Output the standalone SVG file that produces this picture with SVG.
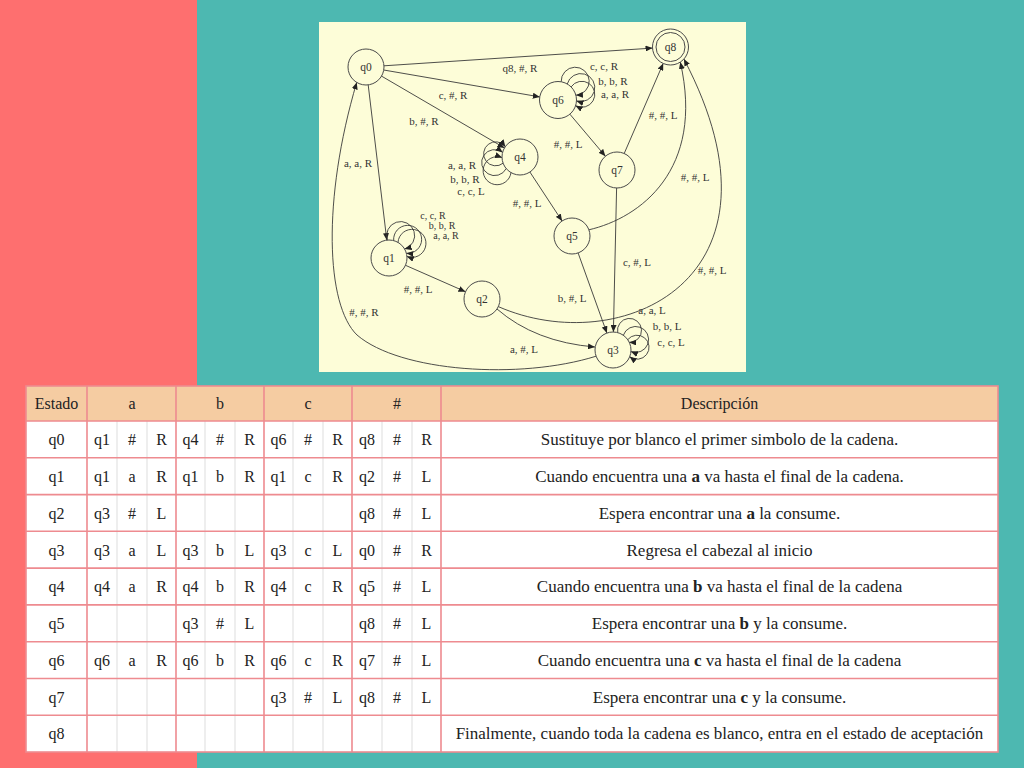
<svg xmlns="http://www.w3.org/2000/svg" width="1024" height="768" viewBox="0 0 1024 768">
<style>
.bgL{fill:#FE6F6F}
.bgR{fill:#4DB8B1}
.panel{fill:#FDFDD8}
.node{fill:none;stroke:#4a4a4a;stroke-width:1}
.nl{font-family:"Liberation Serif",serif;font-size:11.5px;fill:#333;text-anchor:middle}
.el{font-family:"Liberation Serif",serif;font-size:11px;fill:#333;text-anchor:middle}
.es{font-family:"Liberation Serif",serif;font-size:10px;fill:#333;text-anchor:middle}
.edge{fill:none;stroke:#3a3a3a;stroke-width:0.9;marker-end:url(#arr)}
.tc{font-family:"Liberation Serif",serif;font-size:16px;fill:#222;text-anchor:middle}
.td{font-family:"Liberation Serif",serif;font-size:17px;fill:#222;text-anchor:middle}
.pk{stroke:#EE8B90;stroke-width:1.6;fill:none}
.gr{stroke:#DDDDDD;stroke-width:1;fill:none}
</style>
<defs>
<marker id="arr" markerUnits="userSpaceOnUse" markerWidth="7" markerHeight="6" refX="7" refY="3" orient="auto">
<path d="M0,0 L7,3 L0,6 z" fill="#222"/>
</marker>
</defs>
<rect class="bgR" x="0" y="0" width="1024" height="768"/>
<rect class="bgL" x="0" y="0" width="197" height="768"/>
<rect class="panel" x="319" y="22" width="427" height="350"/>

<g id="connectors">
<path class="edge" d="M384,65.8 L652.5,48.1"/>
<path class="edge" d="M383.7,70 L539.8,96.9"/>
<path class="edge" d="M381.5,76.1 L504.5,147.9"/>
<path class="edge" d="M368.2,84.9 L386.8,240.1"/>
<path class="edge" d="M405.5,265.3 L465.5,291.7"/>
<path class="edge" d="M497,309 Q535,342 595,347"/>
<path class="edge" d="M498.3,306.6 C620,360 800,280 683.9,59"/>
<path class="edge" d="M596.1,356.2 C520,380 400,372 357,335 C326,305 322,200 356.7,82.4"/>
<path class="edge" d="M529.9,172 L562.1,221"/>
<path class="edge" d="M569.9,114.2 L605.4,156.2"/>
<path class="edge" d="M624.2,153.5 L663.2,63.4"/>
<path class="edge" d="M616.6,188 L613.4,332"/>
<path class="edge" d="M578.1,252.9 L606.9,333.1"/>
<path class="edge" d="M588.9,229.8 C640,218 705,170 680.3,62.1"/>
<path class="edge" d="M387.4,240.1 A14,14 0 1 1 404.6,249"/>
<path class="edge" d="M393.7,240.6 A14,14 0 1 1 406.4,253.3"/>
<path class="edge" d="M398,242.4 A14,14 0 1 1 406.9,256.4"/>
<path class="edge" d="M561.2,81.8 A14,14 0 1 1 575.9,95.2"/>
<path class="edge" d="M567.25,84 A14,14 0 1 1 576.5,100.9"/>
<path class="edge" d="M571.1,86.9 A13,13 0 1 1 575.6,105.7"/>
<path class="edge" d="M503.1,163.2 A12,12 0 1 1 505.3,146.7"/>
<path class="edge" d="M506.2,168.6 A13,13 0 1 1 502.6,152.3"/>
<path class="edge" d="M511,172.6 A14,14 0 1 1 502,157.6"/>
<path class="edge" d="M617.7,332.6 A12,12 0 1 1 629.3,342.4"/>
<path class="edge" d="M623.3,335.3 A13,13 0 1 1 630.9,351.6"/>
<path class="edge" d="M627.7,339.7 A12,12 0 1 1 629.7,356.7"/>
<text class="el" x="520" y="72">q8, #, R</text>
<text class="el" x="453" y="99">c, #, R</text>
<text class="el" x="424" y="125">b, #, R</text>
<text class="el" x="358" y="167">a, a, R</text>
<text class="el" x="462" y="169">a, a, R</text>
<text class="el" x="465" y="183">b, b, R</text>
<text class="el" x="471" y="195">c, c, L</text>
<text class="el" x="604" y="70">c, c, R</text>
<text class="el" x="613" y="85">b, b, R</text>
<text class="el" x="615" y="98">a, a, R</text>
<text class="el" x="568" y="148">#, #, L</text>
<text class="el" x="663" y="119">#, #, L</text>
<text class="el" x="695" y="181">#, #, L</text>
<text class="es" x="433" y="219">c, c, R</text>
<text class="es" x="442" y="229">b, b, R</text>
<text class="es" x="446" y="239">a, a, R</text>
<text class="el" x="418" y="293">#, #, L</text>
<text class="el" x="364" y="316">#, #, R</text>
<text class="el" x="524" y="353">a, #, L</text>
<text class="el" x="527" y="207">#, #, L</text>
<text class="el" x="572" y="302">b, #, L</text>
<text class="el" x="637" y="266">c, #, L</text>
<text class="el" x="712" y="274">#, #, L</text>
<text class="el" x="652" y="314">a, a, L</text>
<text class="el" x="667" y="330">b, b, L</text>
<text class="el" x="671" y="346">c, c, L</text>
</g>

<g id="q0"><circle class="node" cx="366" cy="67" r="18"/><text class="nl" x="366" y="71">q0</text></g>
<g id="q1"><circle class="node" cx="389" cy="258" r="18"/><text class="nl" x="389" y="262">q1</text></g>
<g id="q2"><circle class="node" cx="482" cy="299" r="18"/><text class="nl" x="482" y="303">q2</text></g>
<g id="q3"><circle class="node" cx="613" cy="350" r="18"/><text class="nl" x="613" y="354">q3</text></g>
<g id="q4"><circle class="node" cx="520" cy="157" r="18"/><text class="nl" x="520" y="161">q4</text></g>
<g id="q5"><circle class="node" cx="572" cy="236" r="18"/><text class="nl" x="572" y="240">q5</text></g>
<g id="q6"><circle class="node" cx="558" cy="100" r="18.5"/><text class="nl" x="558" y="104">q6</text></g>
<g id="q7"><circle class="node" cx="617" cy="170" r="18"/><text class="nl" x="617" y="174">q7</text></g>
<g id="q8"><circle class="node" cx="670.5" cy="47" r="18"/><circle class="node" cx="670.5" cy="47" r="14.5"/><text class="nl" x="670.5" y="51">q8</text></g>

<g id="table">
<rect x="26" y="386" width="972" height="366" fill="#FFFFFF"/>
<rect x="26" y="386" width="972" height="35" fill="#F5CCA2"/>
<g class="gr">
<path d="M117,421V752M147,421V752M205,421V752M235,421V752M293,421V752M323,421V752M382,421V752M412,421V752"/>
</g>
<g class="pk">
<rect x="26" y="386" width="972" height="366"/>
<path d="M87,386V752M176,386V752M264,386V752M352,386V752M441,386V752"/>
<path d="M26,421H998M26,457.8H998M26,494.6H998M26,531.3H998M26,568.1H998M26,604.9H998M26,641.7H998M26,678.5H998M26,715.2H998"/>
</g>
<g class="tc">
<text x="56.5" y="409">Estado</text><text x="132" y="409">a</text><text x="220" y="409">b</text><text x="308" y="409">c</text><text x="397" y="409">#</text><text x="719.5" y="409">Descripción</text>
<text x="56.5" y="445">q0</text><text x="102" y="445">q1</text><text x="132" y="445">#</text><text x="161.5" y="445">R</text><text x="190.5" y="445">q4</text><text x="220" y="445">#</text><text x="249.5" y="445">R</text><text x="278.5" y="445">q6</text><text x="308" y="445">#</text><text x="337.5" y="445">R</text><text x="367" y="445">q8</text><text x="397" y="445">#</text><text x="426.5" y="445">R</text>
<text x="56.5" y="482">q1</text><text x="102" y="482">q1</text><text x="132" y="482">a</text><text x="161.5" y="482">R</text><text x="190.5" y="482">q1</text><text x="220" y="482">b</text><text x="249.5" y="482">R</text><text x="278.5" y="482">q1</text><text x="308" y="482">c</text><text x="337.5" y="482">R</text><text x="367" y="482">q2</text><text x="397" y="482">#</text><text x="426.5" y="482">L</text>
<text x="56.5" y="519">q2</text><text x="102" y="519">q3</text><text x="132" y="519">#</text><text x="161.5" y="519">L</text><text x="367" y="519">q8</text><text x="397" y="519">#</text><text x="426.5" y="519">L</text>
<text x="56.5" y="555.5">q3</text><text x="102" y="555.5">q3</text><text x="132" y="555.5">a</text><text x="161.5" y="555.5">L</text><text x="190.5" y="555.5">q3</text><text x="220" y="555.5">b</text><text x="249.5" y="555.5">L</text><text x="278.5" y="555.5">q3</text><text x="308" y="555.5">c</text><text x="337.5" y="555.5">L</text><text x="367" y="555.5">q0</text><text x="397" y="555.5">#</text><text x="426.5" y="555.5">R</text>
<text x="56.5" y="592">q4</text><text x="102" y="592">q4</text><text x="132" y="592">a</text><text x="161.5" y="592">R</text><text x="190.5" y="592">q4</text><text x="220" y="592">b</text><text x="249.5" y="592">R</text><text x="278.5" y="592">q4</text><text x="308" y="592">c</text><text x="337.5" y="592">R</text><text x="367" y="592">q5</text><text x="397" y="592">#</text><text x="426.5" y="592">L</text>
<text x="56.5" y="629">q5</text><text x="190.5" y="629">q3</text><text x="220" y="629">#</text><text x="249.5" y="629">L</text><text x="367" y="629">q8</text><text x="397" y="629">#</text><text x="426.5" y="629">L</text>
<text x="56.5" y="666">q6</text><text x="102" y="666">q6</text><text x="132" y="666">a</text><text x="161.5" y="666">R</text><text x="190.5" y="666">q6</text><text x="220" y="666">b</text><text x="249.5" y="666">R</text><text x="278.5" y="666">q6</text><text x="308" y="666">c</text><text x="337.5" y="666">R</text><text x="367" y="666">q7</text><text x="397" y="666">#</text><text x="426.5" y="666">L</text>
<text x="56.5" y="703">q7</text><text x="278.5" y="703">q3</text><text x="308" y="703">#</text><text x="337.5" y="703">L</text><text x="367" y="703">q8</text><text x="397" y="703">#</text><text x="426.5" y="703">L</text>
<text x="56.5" y="739">q8</text>
</g>
<g class="td">
<text x="719.5" y="445">Sustituye por blanco el primer simbolo de la cadena.</text>
<text x="719.5" y="482">Cuando encuentra una <tspan font-weight="bold">a</tspan> va hasta el final de la cadena.</text>
<text x="719.5" y="519">Espera encontrar una <tspan font-weight="bold">a</tspan> la consume.</text>
<text x="719.5" y="555.5">Regresa el cabezal al inicio</text>
<text x="719.5" y="592">Cuando encuentra una <tspan font-weight="bold">b</tspan> va hasta el final de la cadena</text>
<text x="719.5" y="629">Espera encontrar una <tspan font-weight="bold">b</tspan> y la consume.</text>
<text x="719.5" y="666">Cuando encuentra una <tspan font-weight="bold">c</tspan> va hasta el final de la cadena</text>
<text x="719.5" y="703">Espera encontrar una <tspan font-weight="bold">c</tspan> y la consume.</text>
<text x="719.5" y="739">Finalmente, cuando toda la cadena es blanco, entra en el estado de aceptación</text>
</g>
</g>
</svg>
